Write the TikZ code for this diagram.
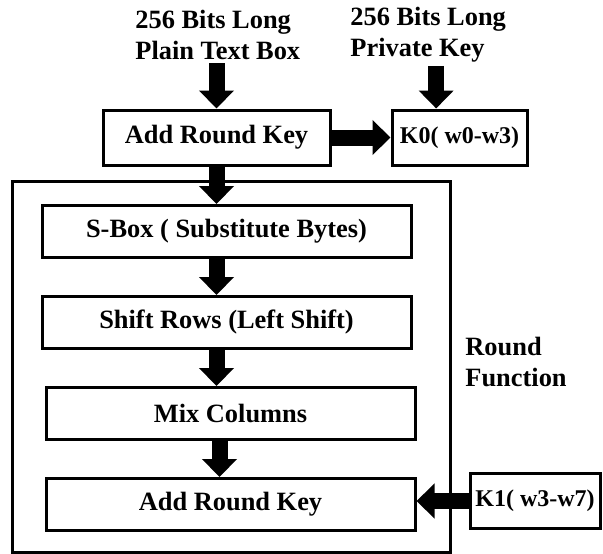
\documentclass[tikz,border=0pt]{standalone}
\usepackage{fontspec}
\setmainfont{Liberation Serif}
\usetikzlibrary{arrows.meta}
\usetikzlibrary{positioning}

\begin{document}
\begin{tikzpicture}
        [x=0.5pt, y=-0.5pt, node distance=45.5pt,
        font=\bfseries\fontsize{13.2}{15.5}\selectfont,
        stage/.style={draw, line width=1.5pt, minimum width=184.5pt, minimum height=26pt, inner sep=0pt},
        keybox/.style={draw, line width=1.5pt, minimum height=27.5pt, inner sep=0pt, font=\bfseries\fontsize{12}{14}\selectfont},
        caption/.style={anchor=west, align=left, inner sep=0pt},
        blockarrow/.style={line width=8pt, -{Triangle[width=17pt,length=9pt]}}]
        \useasboundingbox (0,0) rectangle (603,553);
        \node [caption] (plain) at (135,35) {256 Bits Long\\Plain Text Box};
        \node [caption] (private) at (350,35) {256 Bits Long\\Private Key};
        \node [stage, minimum width=113.5pt, minimum height=27.5pt] (ark0) at (216.5,137.5) {Add Round Key};
        \node [keybox, minimum width=67.5pt] (k0) at (459.5,137.5) {K0( w0-w3)};
        \node [draw, line width=1.5pt, minimum width=219pt, minimum height=185.5pt] (frame) at (231,366.5) {};
        \node [stage] (sbox) at (226.5,231.5) {S-Box ( Substitute Bytes)};
        \node [stage, below of=sbox] (shift) {Shift Rows (Left Shift)};
        \node [stage, below of=shift, xshift=2pt] (mix) {Mix Columns};
        \node [stage, below of=mix] (ark1) {Add Round Key};
        \node [keybox, minimum width=65pt] (k1) at (535,501) {K1( w3-w7)};
        \node [caption] (roundfn) at (465,362) {Round\\Function};

        \draw [blockarrow, shorten <=1.5pt] (plain.south -| ark0.north) -- (ark0.north);
        \draw [blockarrow, shorten <=1.5pt] ([xshift=4pt]private.south) -- ([xshift=4pt]private.south |- k0.north);
        \draw [blockarrow] (ark0.east) -- (k0.west);
        \draw [blockarrow] (ark0.south) -- (ark0.south |- sbox.north);
        \draw [blockarrow] (sbox.south -| ark0.south) -- (shift.north -| ark0.south);
        \draw [blockarrow] (shift.south -| ark0.south) -- (mix.north -| ark0.south);
        \draw [blockarrow] ([xshift=1.5pt]mix.south -| ark0.south) -- ([xshift=1.5pt]ark1.north -| ark0.south);
        \draw [blockarrow] (k1.west) -- (k1.west -| ark1.east);
    \end{tikzpicture}
\end{document}
